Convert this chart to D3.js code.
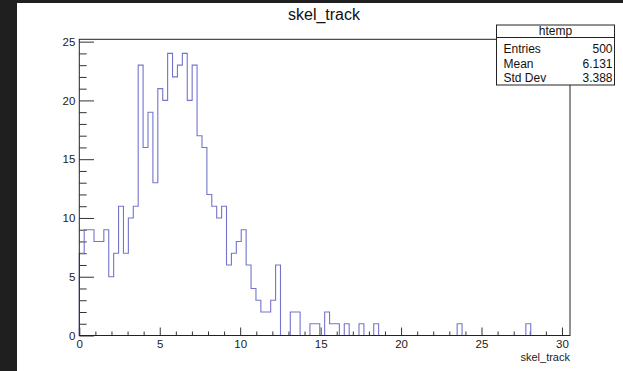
<!DOCTYPE html>
<html>

<head>
    <meta charset="UTF-8">
    <title>skel_track</title>
    <style>
        body { margin: 0; background: #1f1f1f; }
        svg { display: block; font-family: "Liberation Sans", Arial, sans-serif; }
    </style>
</head>

<body>
    <svg width="623" height="371"></svg>
    <script src="https://cdn.jsdelivr.net/npm/d3@7"></script>
    <script>
        // histogram setup (100 bins)
        const xMin = 0, xMax = 30.5, nBins = 100;
        const binCounts = [
            7, 9, 9, 8, 8, 9, 5, 7, 11, 7,
            10, 11, 23, 16, 19, 13, 21, 20, 24, 22,
            23, 24, 20, 23, 17, 16, 12, 11, 10, 11,
            6, 7, 8, 9, 6, 4, 3, 2, 2, 3,
            6, 0, 0, 2, 2, 0, 0, 1, 1, 0,
            2, 1, 1, 0, 1, 0, 0, 1, 0, 0,
            1, 0, 0, 0, 0, 0, 0, 0, 0, 0,
            0, 0, 0, 0, 0, 0, 0, 1, 0, 0,
            0, 0, 0, 0, 0, 0, 0, 0, 0, 0,
            0, 1, 0, 0, 0, 0, 0, 0, 0, 0
        ];
        const yMax = 25.2;
        const xMajorTicks = [0, 5, 10, 15, 20, 25, 30];
        const yMajorTicks = [0, 5, 10, 15, 20, 25];
        const histTitle = "skel_track";
        const xTitle = "skel_track";
        const statHeader = "htemp";
        const statNames = ["Entries", "Mean", "Std Dev"];
        const statValues = ["500", "6.131", "3.388"];

        const svg = d3.select("svg"),
            frame = { left: 79.3, right: 570, top: 39.3, bottom: 335.5 };

        // white canvas over the dark window
        svg.append("rect")
            .attr("x", 17).attr("y", 3)
            .attr("width", 606).attr("height", 368)
            .attr("fill", "#ffffff");

        const x = d3.scaleLinear().domain([xMin, xMax]).range([frame.left, frame.right]),
            y = d3.scaleLinear().domain([0, yMax]).range([frame.bottom, frame.top]);

        const xMinor = d3.range(1, 31).filter(d => d % 5 !== 0),
            yMinor = d3.range(1, 26).filter(d => d % 5 !== 0);

        // x axis, ticks pointing into the frame
        const gx = svg.append("g")
            .attr("class", "axis axis-x")
            .attr("transform", `translate(0,${frame.bottom})`);
        gx.append("g").call(d3.axisBottom(x).tickValues(xMinor).tickSize(-4).tickFormat(""));
        gx.append("g").call(d3.axisBottom(x).tickValues(xMajorTicks).tickSize(-8).tickPadding(4).tickFormat(d3.format("d")));

        // y axis
        const gy = svg.append("g")
            .attr("class", "axis axis-y")
            .attr("transform", `translate(${frame.left},0)`);
        gy.append("g").call(d3.axisLeft(y).tickValues(yMinor).tickSize(-7.4).tickFormat(""));
        gy.append("g").call(d3.axisLeft(y).tickValues(yMajorTicks).tickSize(-14.7).tickPadding(4).tickFormat(d3.format("d")));

        svg.selectAll(".axis .domain").remove();
        svg.selectAll(".axis line").attr("stroke", "#333").attr("stroke-width", 1);
        svg.selectAll(".axis text")
            .attr("fill", "#222")
            .style("font-size", "11.5px")
            .style("font-family", "'Liberation Sans', Arial, sans-serif");

        // histogram outline
        const bw = (xMax - xMin) / nBins;
        const pts = [[xMin, 0]].concat(binCounts.map((c, i) => [xMin + i * bw, c]), [[xMax, 0]]);
        svg.append("path")
            .datum(pts)
            .attr("fill", "none")
            .attr("stroke", "#7474cc")
            .attr("stroke-width", 1.1)
            .attr("d", d3.line().x(d => x(d[0])).y(d => y(d[1])).curve(d3.curveStepAfter));

        // frame
        svg.append("rect")
            .attr("x", frame.left).attr("y", frame.top)
            .attr("width", frame.right - frame.left)
            .attr("height", frame.bottom - frame.top)
            .attr("fill", "none")
            .attr("stroke", "#222")
            .attr("stroke-width", 1);

        // title
        svg.append("text")
            .attr("x", 324).attr("y", 20)
            .attr("text-anchor", "middle")
            .style("font-size", "16px")
            .attr("fill", "#111")
            .text(histTitle);

        // x axis title
        svg.append("text")
            .attr("x", frame.right).attr("y", 361)
            .attr("text-anchor", "end")
            .style("font-size", "11px")
            .attr("fill", "#222")
            .text(xTitle);

        // stats box
        const box = { x: 496.5, y: 25, w: 118, h: 60, head: 12.5 };
        const sb = svg.append("g");
        sb.append("rect")
            .attr("x", box.x).attr("y", box.y)
            .attr("width", box.w).attr("height", box.h)
            .attr("fill", "#fff").attr("stroke", "#222");
        sb.append("line")
            .attr("x1", box.x).attr("x2", box.x + box.w)
            .attr("y1", box.y + box.head).attr("y2", box.y + box.head)
            .attr("stroke", "#222");
        sb.append("text")
            .attr("x", box.x + box.w / 2).attr("y", box.y + 9.5)
            .attr("text-anchor", "middle")
            .style("font-size", "12px")
            .attr("fill", "#111")
            .text(statHeader);
        sb.selectAll(".sname")
            .data(statNames)
            .enter().append("text")
            .attr("x", box.x + 7)
            .attr("y", (d, i) => box.y + 28 + i * 14.5)
            .style("font-size", "12px")
            .attr("fill", "#111")
            .text(d => d);
        sb.selectAll(".sval")
            .data(statValues)
            .enter().append("text")
            .attr("x", box.x + box.w - 2)
            .attr("y", (d, i) => box.y + 28 + i * 14.5)
            .attr("text-anchor", "end")
            .style("font-size", "12px")
            .attr("fill", "#111")
            .text(d => d);
    </script>
</body>

</html>
